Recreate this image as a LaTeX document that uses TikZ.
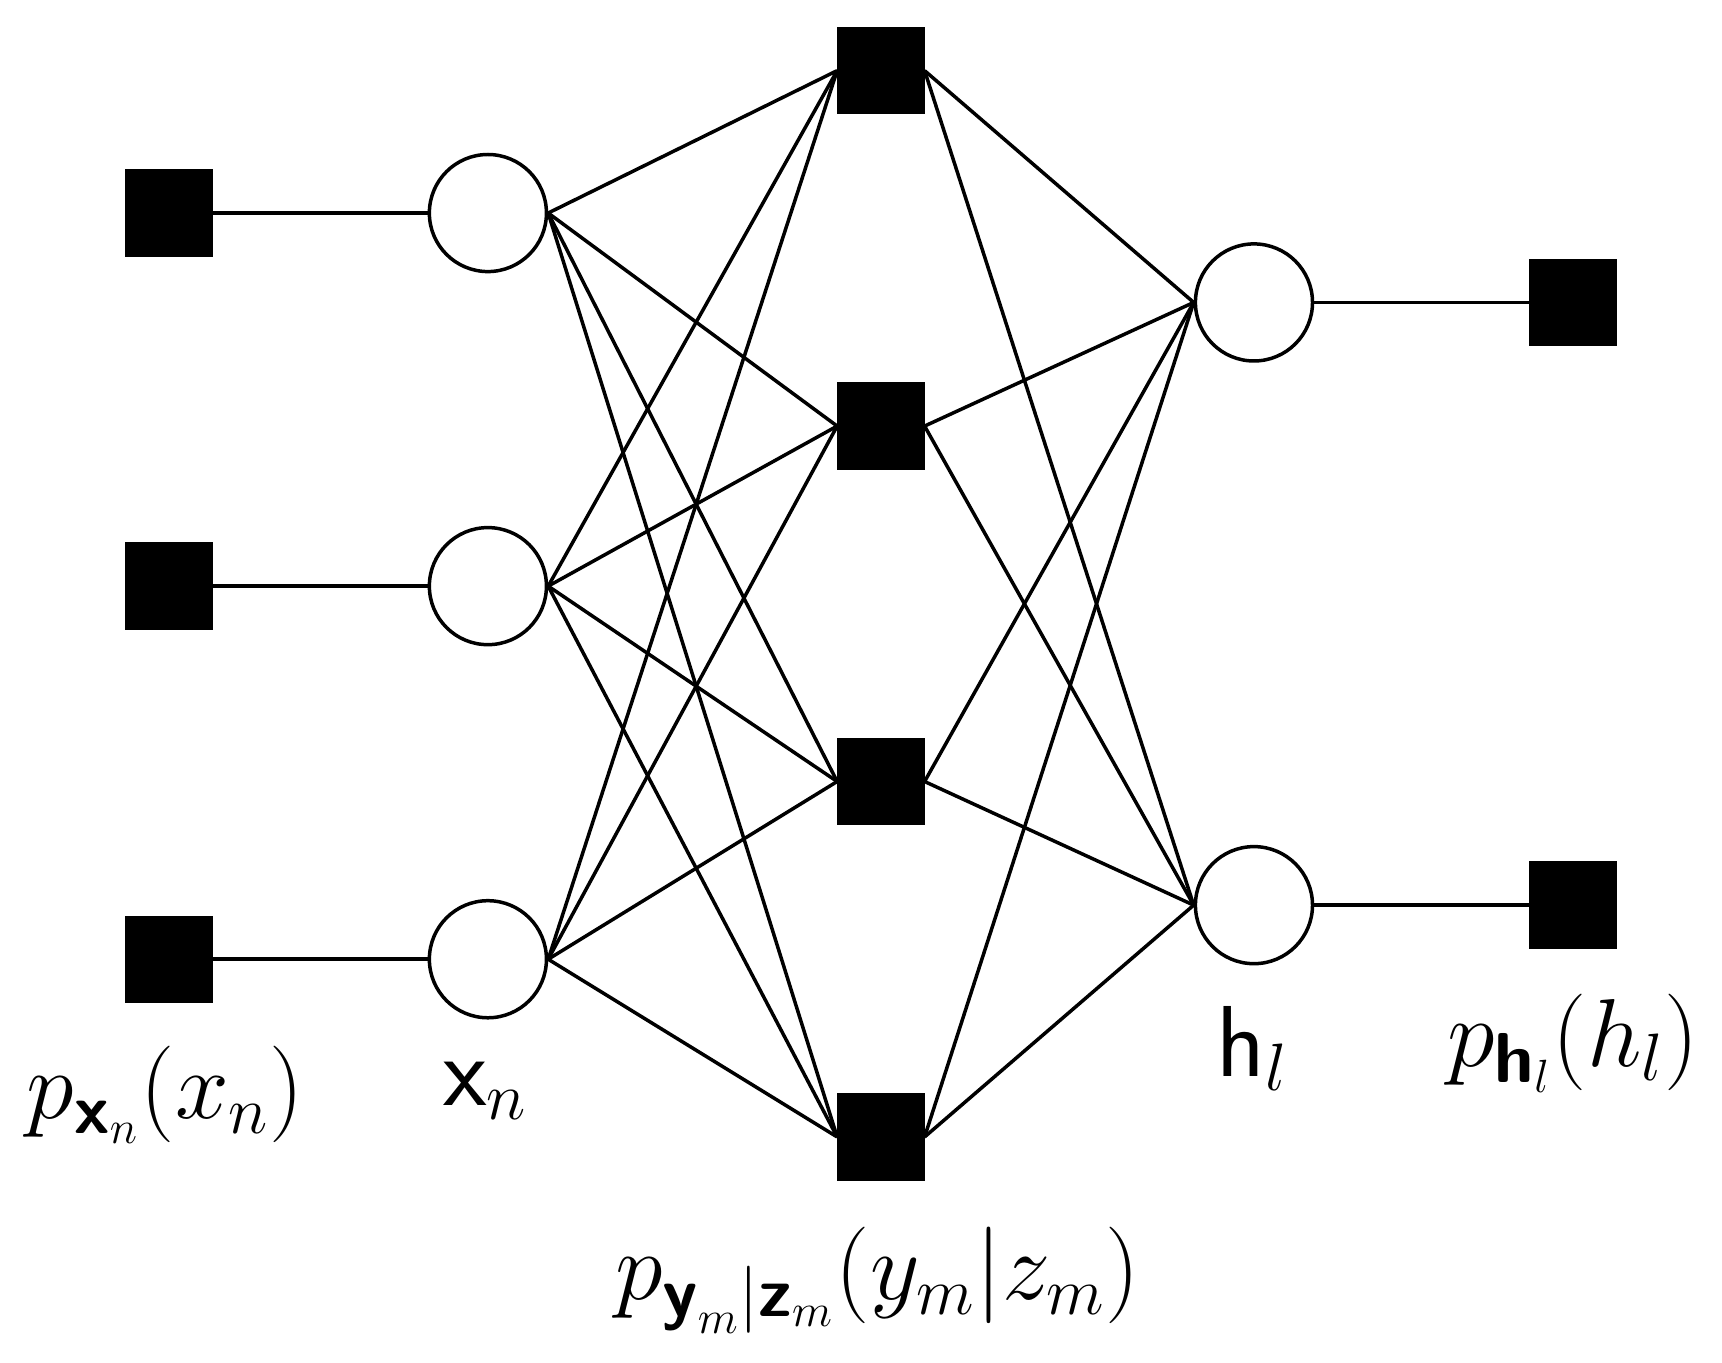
\documentclass[tikz,border=0pt]{standalone}
\usepackage{amsmath}
\begin{document}
\begin{tikzpicture}[x=0.01cm,y=-0.01cm,
  fac/.style={draw,fill=black,minimum size=0.76cm,inner sep=0},
  var/.style={draw,circle,minimum size=1.06cm,inner sep=0,line width=0.9pt},
  lbl/.style={font=\fontsize{26}{30}\selectfont},
  every path/.style={line width=0.9pt}]
\useasboundingbox (0,0) rectangle (1560,1234);
\newcommand{\bsf}[1]{\text{\textsf{\textbf{#1}}}}
\foreach \i/\y in {1/193,2/531,3/869}{
  \node[fac] (f\i) at (153,\y) {};
  \node[var] (x\i) at (442,\y) {};
  \draw (f\i) -- (x\i);
}
\foreach \j/\y in {1/64,2/386,3/708,4/1030}{
  \node[fac] (m\j) at (798,\y) {};
}
\foreach \k/\y in {1/274,2/820}{
  \node[var] (h\k) at (1136,\y) {};
  \node[fac] (g\k) at (1425,\y) {};
  \draw (h\k) -- (g\k);
}
\foreach \i in {1,2,3}{\foreach \j in {1,2,3,4}{\draw (x\i.east) -- (m\j.west);}}
\foreach \j in {1,2,3,4}{\foreach \k in {1,2}{\draw (m\j.east) -- (h\k.west);}}
\node[lbl] (l1) at (150,992) {$p_{\bsf{x}_n}(x_n)$};
\node[lbl] (l2) at (440,988) {$\text{\textsf{x}}_n$};
\node[lbl] (l3) at (795,1160) {$p_{\bsf{y}_m|\bsf{z}_m}(y_m|z_m)$};
\node[lbl] (l4) at (1135,950) {$\text{\textsf{h}}_l$};
\node[lbl] (l5) at (1425,945) {$p_{\bsf{h}_l}(h_l)$};
\end{tikzpicture}
\end{document}
